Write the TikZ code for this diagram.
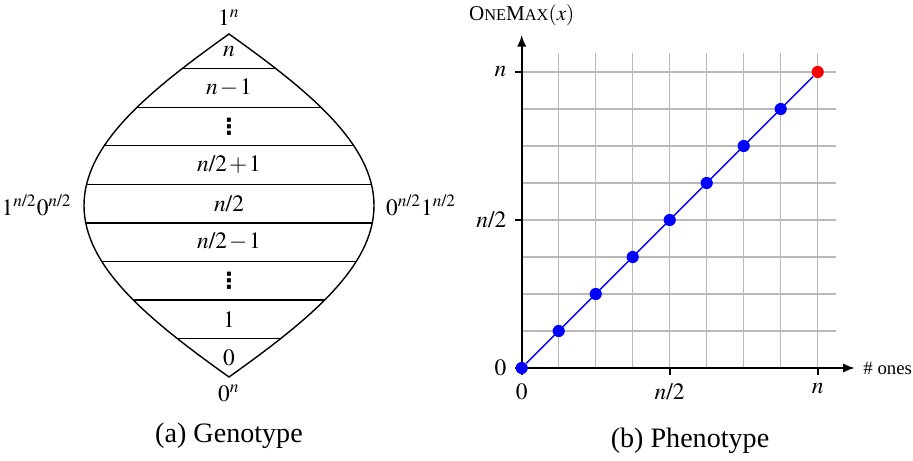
\documentclass[tikz,border=0pt]{standalone}
\usepackage{mathptmx}
\usepackage{fontspec}
\setmainfont{Liberation Serif}
\newfontfamily\dotsfont{DejaVu Sans}
\usetikzlibrary{arrows.meta}

% slash and plus taken from the text font, as in Times math
\Umathcode`/="0 "0 "2F
\Umathcode`+="2 "0 "2B

\newcommand{\stackdots}{{\dotsfont\bfseries\fontsize{9.5}{9.5}\selectfont ⋮}}
\newcommand{\onemax}{O{\scriptsize NE}M{\scriptsize AX}}

\begin{document}
\begin{tikzpicture}[
    bandline/.style={line width=0.6pt},
    bandlabel/.style={inner sep=1pt, execute at begin node={\medmuskip=1.5mu}},
    gridline/.style={gray!55, line width=0.5pt},
    axis/.style={thick, -{Latex[length=5pt, width=4pt]}},
    tick/.style={thick},
    dot/.style={circle, fill=blue, inner sep=0pt, minimum size=5.2pt},
    caption/.style={font=\large, anchor=base}
]
\useasboundingbox (0,0) rectangle (13.695,6.9);

% genotype: the lens of all bit strings
\begin{scope}[shift={(3.435,1.245)}]
\def\lens{(0,0) .. controls (-1.2,0.855) and (-2.175,1.65) .. (-2.175,2.5725)
  .. controls (-2.175,3.495) and (-1.2,4.29) .. (0,5.145)
  .. controls (1.2,4.29) and (2.175,3.495) .. (2.175,2.5725)
  .. controls (2.175,1.65) and (1.2,0.855) .. (0,0) -- cycle}
\begin{scope}
\clip \lens;
\foreach \k in {1,...,8}
  \draw[bandline] (-3,0.578*\k) -- (3,0.578*\k);
\end{scope}
\draw[bandline] \lens;

\node[bandlabel] (b0) at (0,0.289) {$0$};
\node[bandlabel] (b1) at (0,0.867) {$1$};
\node[bandlabel] (dlow) at (0,1.445) {\stackdots};
\node[bandlabel] (bhm) at (0,2.023) {$n/2-1$};
\node[bandlabel] (bh) at (0,2.601) {$n/2$};
\node[bandlabel] (bhp) at (0,3.179) {$n/2+1$};
\node[bandlabel] (dhigh) at (0,3.757) {\stackdots};
\node[bandlabel] (bnm) at (0,4.335) {$n-1$};
\node[bandlabel] (bn) at (0,4.885) {$n$};

\node[above] (top) at (0,5.145) {$1^n$};
\node[below] (bottom) at (0,0) {$0^n$};
\node[left, inner sep=5pt] (west) at (-2.175,2.5725) {$1^{n/2}0^{n/2}$};
\node[right, inner sep=5pt] (east) at (2.175,2.5725) {$0^{n/2}1^{n/2}$};
\end{scope}
\node[caption] (capa) at (3.435,0.2595) {(a) Genotype};

% phenotype: OneMax over the number of ones
\begin{scope}[shift={(7.8255,1.38)}, x=0.555cm, y=0.555cm]
\foreach \i in {1,...,8} {
  \draw[gridline] (\i,0) -- (\i,8.5);
  \draw[gridline] (0,\i) -- (8.5,\i);
}
\coordinate (O) at (0,0);
\coordinate (xend) at (9,0);
\coordinate (yend) at (0,9);
\draw[axis] (O) -- (xend) node[right, font=\footnotesize] (xlab) {\# ones};
\draw[axis] (O) -- (yend) node[above, font=\small] (ylab) {\onemax$(x)$};
\foreach \v/\t in {0/0, 4/{n/2}, 8/n} {
  \draw[tick] (\v,0) -- ++(0,-0.1cm) node[below] (xt\v) {$\t$};
  \draw[tick] (0,\v) -- ++(-0.1cm,0) node[left] (yt\v) {$\t$};
}
\foreach \i in {0,...,7}
  \node[dot] (p\i) at (\i,\i) {};
\node[dot, fill=red] (p8) at (8,8) {};
\draw[blue, semithick] (p0) -- (p8);
\end{scope}
\node[caption] (capb) at (10.35,0.19) {(b) Phenotype};
\end{tikzpicture}
\end{document}
